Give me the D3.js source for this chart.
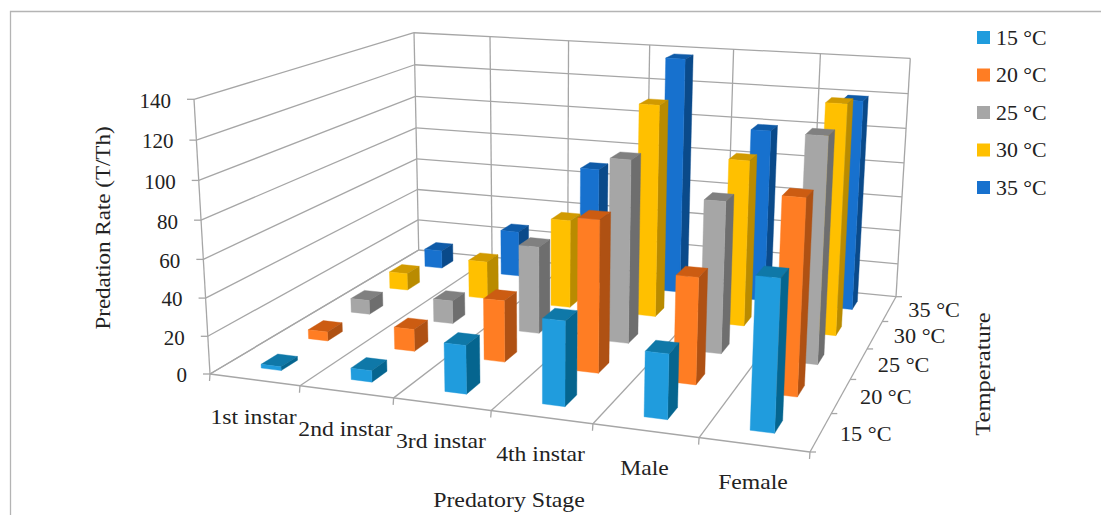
<!DOCTYPE html>
<html><head><meta charset="utf-8">
<script src="https://cdn.jsdelivr.net/npm/d3@7"></script>
<style>html,body{margin:0;padding:0;background:#fff}svg{display:block}text{font-family:"Liberation Serif",serif;fill:#222}</style>
</head><body><svg id="c" width="1101" height="515"></svg>
<script>
const stages=["1st instar","2nd instar","3rd instar","4th instar","Male","Female"];
const temps=["15 °C","20 °C","25 °C","30 °C","35 °C"];
const t15=[2,6,25,43,32.5,74];
const t20=[5,12,33,80,55.5,99.5];
const t25=[8,13,48.5,100,82,119.5];
const t30=[10,22,51,120,93,127];
const t35=[11,27.5,70,138,100,120];
const series=[t15,t20,t25,t30,t35];
const yTicks=[0,20,40,60,80,100,120,140];
const fronts=["#209CDD","#FF7D23","#A6A6A6","#FFC000","#1771CE"];
const tops=["#0F78A8","#CC5C12","#808080","#D19A00","#0F5BA8"];
const sides=["#05658F","#AF5113","#6E6E6E","#B98B00","#0A4A8A"];
const svg=d3.select("#c");
const O=[210,374],B=[810,452],C=[418.7,250],D=[896,296.7],E=[194,99.3],F=[414,32.7];
function solve(){
 const a1=B[0]-D[0],b1=C[0]-D[0],c1=O[0]-D[0],a2=B[1]-D[1],b2=C[1]-D[1],c2=O[1]-D[1];
 const det=a1*b2-b1*a2,al=(c1*b2-b1*c2)/det,be=(a1*c2-c1*a2)/det;
 const dx=E[0]-F[0],dy=E[1]-F[1];
 const rx=O[0]-F[0]-be*(C[0]-F[0]),ry=O[1]-F[1]-be*(C[1]-F[1]);
 const ga=(rx*dx+ry*dy)/(dx*dx+dy*dy);
 return [al,be,ga];
}
const [al,be,ga]=solve();
function P(u,v,w){
 const W=1+u*(al-1)+v*(be-1)+w*(ga-1);
 const f=i=>(O[i]+u*(al*B[i]-O[i])+v*(be*C[i]-O[i])+w*(ga*E[i]-O[i]))/W;
 return [f(0),f(1)];
}
const uBand=d3.scaleBand().domain(stages).range([0,1]).paddingInner(0);
const vBand=d3.scaleBand().domain(temps).range([0,1]);
const yS=d3.scaleLinear().domain([0,140]).range([0,1]);
const gridCol="#A6A6A6";
const line=(a,b,sw=1.3)=>svg.append("line").attr("x1",a[0]).attr("y1",a[1]).attr("x2",b[0]).attr("y2",b[1]).attr("stroke",gridCol).attr("stroke-width",sw);
function label(x,y,txt,size,stretch,anchor,rot){
 const t=svg.append("text").attr("dy",".35em").attr("font-size",size).attr("text-anchor",anchor).text(txt);
 t.attr("transform",`translate(${x},${y})`+(rot?` rotate(${rot})`:""));
 if(stretch!==1){const n=t.node().getComputedTextLength();t.attr("textLength",n*stretch).attr("lengthAdjust","spacingAndGlyphs");}
 return t;
}
svg.append("path").attr("d","M10.5,515V11.5H1101").attr("fill","none").attr("stroke","#B4B4B4").attr("stroke-width",1.3);
yTicks.forEach(t=>{const w=yS(t);
 line(P(0,0,w),P(0,1,w));line(P(0,1,w),P(1,1,w));
 const p=P(0,0,w);line([p[0]-7,p[1]],p);
 label(p[0]-23,p[1]+1,String(t),21,1,"end");
});
const uEdges=d3.range(stages.length+1).map(i=>i/stages.length);
uEdges.forEach(u=>{
 line(P(u,1,0),P(u,1,1));
 line(P(u,0,0),P(u,1,0));
 const p=P(u,0,0);line(p,[p[0]-.5,p[1]+7]);
});
line(P(0,0,0),P(0,0,1));line(P(0,0,0),P(1,0,0));
d3.range(temps.length+1).forEach(i=>{const p=P(1,i/temps.length,0);line(p,[p[0]+6,p[1]]);});
const bw=0.225,bd=0.34;
const order=[];
temps.forEach((t,s)=>stages.forEach((st,c)=>order.push({s,c,val:series[s][c]})));
order.sort((a,b)=>b.s-a.s||a.c-b.c);
const poly=(pts,col)=>svg.append("path").attr("d",d3.line()(pts)+"Z").attr("fill",col).attr("stroke",col).attr("stroke-width",.4);
order.forEach(d=>{
 const uc=uBand(stages[d.c])+uBand.bandwidth()/2,vc=vBand(temps[d.s])+vBand.bandwidth()/2;
 const hu=uBand.bandwidth()*bw/2,hv=vBand.bandwidth()*bd/2,u0=uc-hu,u1=uc+hu,v0=vc-hv,v1=vc+hv,w=yS(d.val);
 poly([P(u0,v0,w),P(u1,v0,w),P(u1,v1,w),P(u0,v1,w)],tops[d.s]);
 poly([P(u1,v0,0),P(u1,v1,0),P(u1,v1,w),P(u1,v0,w)],sides[d.s]);
 poly([P(u0,v0,0),P(u1,v0,0),P(u1,v0,w),P(u0,v0,w)],fronts[d.s]);
});
stages.forEach(s=>{const p=P(uBand(s)+uBand.bandwidth()/2,0,0);
 label(p[0]-1,p[1]+36.5,s,21.5,1.1,"middle");});
temps.forEach(t=>{const p=P(1,vBand(t)+vBand.bandwidth()/2,0);
 label(p[0]+19,p[1]+1,t,21,1.06,"start");});
label(509,499,"Predatory Stage",21.5,1.11,"middle");
label(982,374,"Temperature",21.5,1.14,"middle",-90);
label(102,228,"Predation Rate (T/Th)",21.5,1.07,"middle",-90);
const lg=d3.scalePoint().domain(temps).range([37.5,187.5]);
temps.forEach((t,i)=>{
 svg.append("rect").attr("x",977).attr("y",lg(t)-6.5).attr("width",13).attr("height",13).attr("fill",fronts[i]);
 label(996,lg(t),t,21,1.04,"start");
});
</script></body></html>
